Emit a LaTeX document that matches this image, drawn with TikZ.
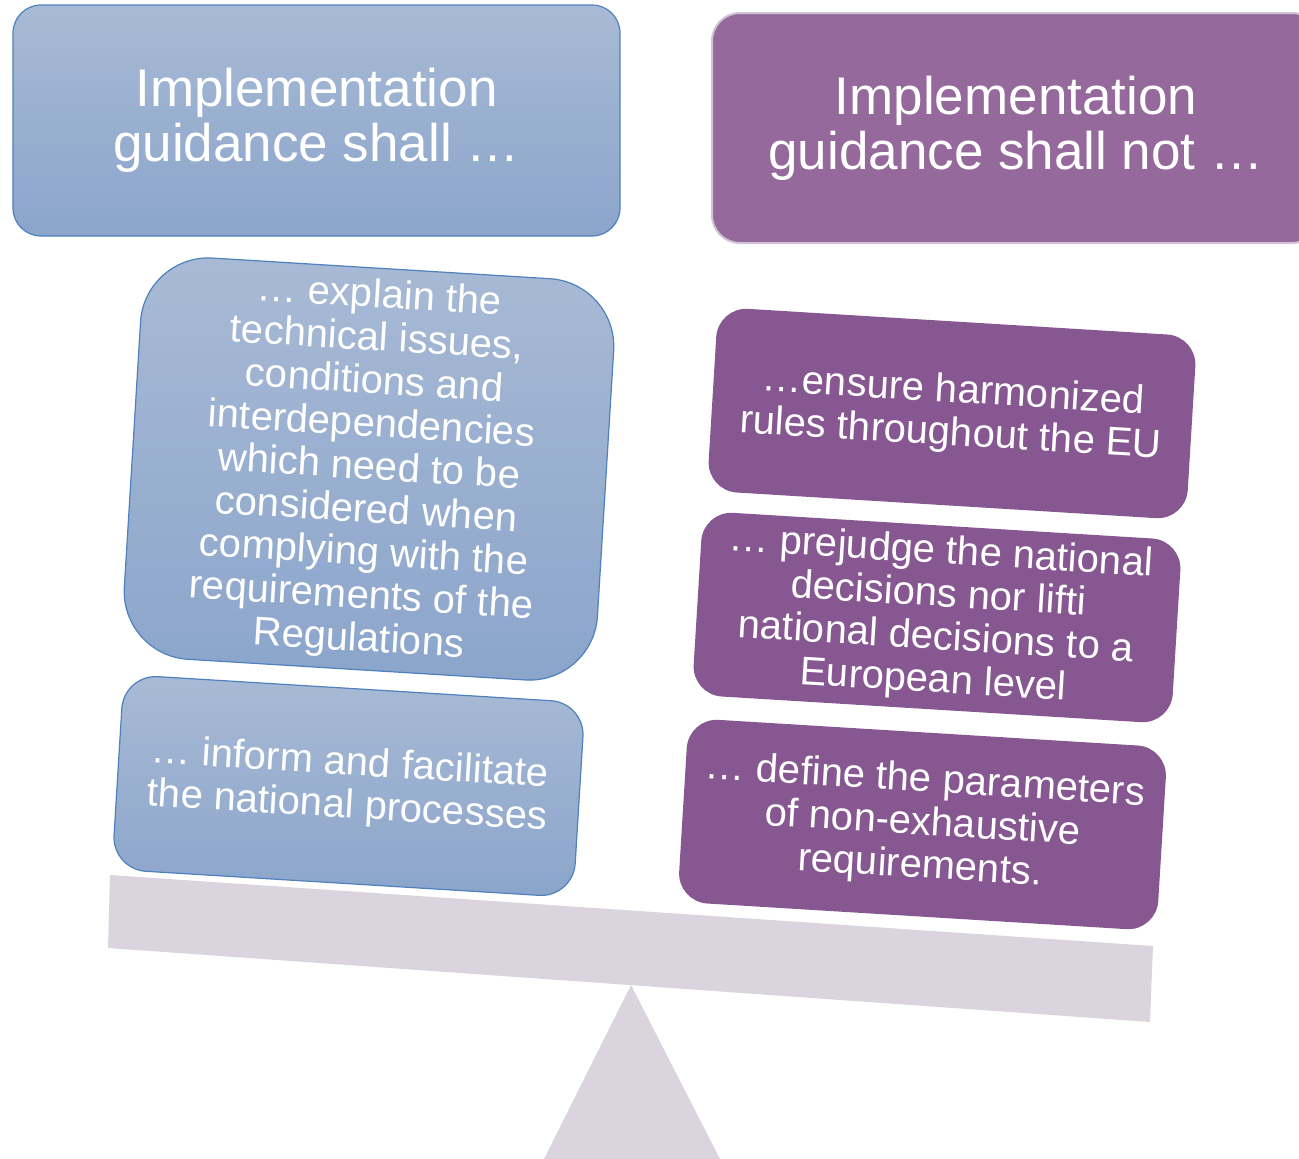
\documentclass[tikz,border=0pt]{standalone}
\usepackage{fontspec}
\setmainfont{Liberation Sans}
\definecolor{shalltop}{RGB}{168,186,213}
\definecolor{shallbot}{RGB}{139,165,203}
\definecolor{shallline}{RGB}{79,129,189}
\definecolor{shallnot}{RGB}{149,105,155}
\definecolor{shallnotbox}{RGB}{135,87,145}
\definecolor{shallnotline}{RGB}{208,196,212}
\definecolor{balance}{RGB}{218,212,223}
\tikzset{
    headbox/.style={rounded corners=28pt, minimum width=607pt, minimum height=231pt,
        text=white, align=center, font=\fontsize{53}{55}\selectfont},
    dobox/.style={rounded corners=#1, top color=shalltop, bottom color=shallbot,
        draw=shallline, line width=1.2pt, text=white, align=center,
        font=\fontsize{40}{43}\selectfont, rotate=-3.5},
    dontbox/.style={rounded corners=30pt, fill=shallnotbox, text=white, align=center,
        minimum width=480pt, minimum height=184pt,
        font=\fontsize{40}{43}\selectfont, rotate=-3.5}
}
\begin{document}
\begin{tikzpicture}[x=1pt,y=-1pt]
    \clip (0,0) rectangle (1299,1159);
    % balance: beam and pivot
    \fill[balance] (110,875) -- (1153,946) -- (1150,1022) -- (108,948) -- cycle;
    \fill[balance] (631,985) -- (720,1159) -- (544,1159) -- cycle;
    % headings
    \node[headbox, top color=shalltop, bottom color=shallbot, draw=shallline, line width=1.2pt]
        (shall) at (316.5,120.5) {Implementation\\guidance shall …};
    \node[headbox, fill=shallnot, draw=shallnotline, line width=2pt, minimum width=608pt, minimum height=230pt]
        (shallnot) at (1016,128) {Implementation\\guidance shall not …};
    % what guidance shall do
    \node[dobox=68pt, minimum width=474pt, minimum height=402pt] (explain) at (369,469)
        {… explain the\\technical issues,\\conditions and\\interdependencies\\which need to be\\considered when\\complying with the\\requirements of the\\Regulations};
    \node[dobox=34pt, minimum width=462pt, minimum height=195pt] (inform) at (348.5,786)
        {… inform and facilitate\\the national processes};
    % what guidance shall not do
    \node[dontbox] (ensure) at (952,413.5) {…ensure harmonized\\rules throughout the EU};
    \node[dontbox] (prejudge) at (937,617.5)
        {… prejudge the national\\decisions nor lifti\\national decisions to a\\European level};
    \node[dontbox] (define) at (922.5,824.5)
        {… define the parameters\\of non-exhaustive\\requirements.};
\end{tikzpicture}
\end{document}
